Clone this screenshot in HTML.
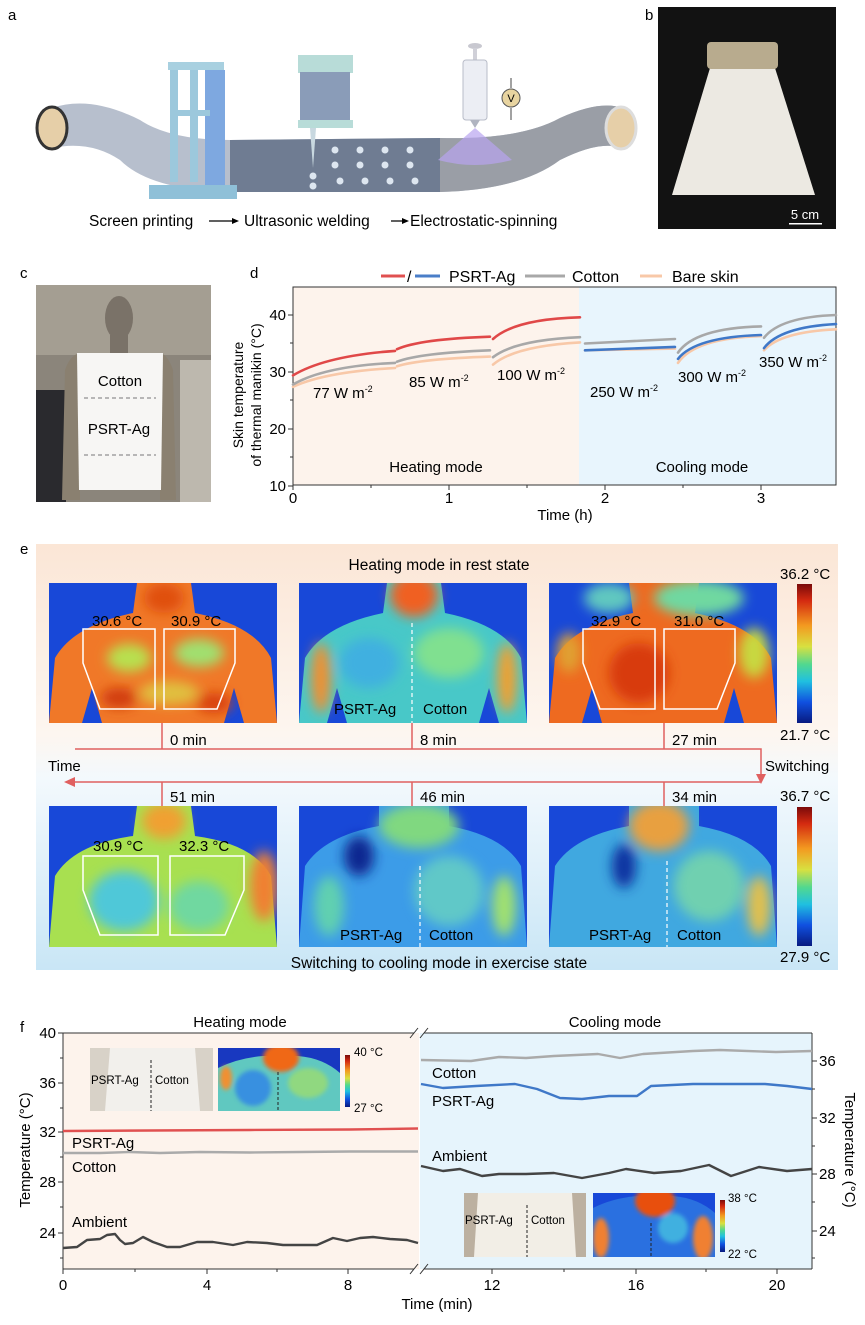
<!DOCTYPE html>
<html><head><meta charset="utf-8"><style>
html,body{margin:0;padding:0;background:#fff;}
svg{display:block;font-family:"Liberation Sans",Arial,sans-serif;}
</style></head><body>
<svg width="865" height="1325" viewBox="0 0 865 1325" xmlns="http://www.w3.org/2000/svg">
<defs>
<filter id="bl" x="-20%" y="-20%" width="140%" height="140%"><feGaussianBlur stdDeviation="6"/></filter>
<filter id="bl2"><feGaussianBlur stdDeviation="2"/></filter>
<linearGradient id="cb" x1="0" y1="0" x2="0" y2="1">
<stop offset="0" stop-color="#7a0a0a"/><stop offset="0.12" stop-color="#d42a10"/><stop offset="0.3" stop-color="#f39a20"/><stop offset="0.45" stop-color="#d8e040"/><stop offset="0.58" stop-color="#50d890"/><stop offset="0.7" stop-color="#20c0e0"/><stop offset="0.85" stop-color="#1050e0"/><stop offset="1" stop-color="#081a80"/></linearGradient>
<linearGradient id="ebg" x1="0" y1="0" x2="0" y2="1">
<stop offset="0" stop-color="#fbe6d6"/><stop offset="0.45" stop-color="#fdf6f0"/><stop offset="0.55" stop-color="#f3f9fd"/><stop offset="1" stop-color="#c9e6f6"/></linearGradient>
<linearGradient id="roll" x1="0" y1="0" x2="1" y2="0"><stop offset="0" stop-color="#b9b9bd"/><stop offset="1" stop-color="#e8e8ec"/></linearGradient>
<clipPath id="c1"><rect x="0" y="0" width="228" height="140"/></clipPath>
<clipPath id="c2"><rect x="0" y="0" width="228" height="141"/></clipPath>
</defs>

<!-- ===== Panel a ===== -->
<text x="8" y="20" font-size="15">a</text>
<!-- belt -->
<path d="M52,108 Q90,95 140,120 Q170,140 230,140 L440,138 Q520,140 560,118 Q600,100 622,108 L622,148 Q600,140 560,160 Q520,190 440,192 L230,192 Q150,190 120,160 Q90,140 52,148 Z" fill="#aab4c4" opacity="0.85"/>
<path d="M230,140 L440,138 L440,192 L230,192 Z" fill="#6f7c92"/>
<path d="M440,138 Q520,140 560,118 Q600,100 622,108 L622,148 Q600,140 560,160 Q520,190 440,192 Z" fill="#9a9ea6"/>
<ellipse cx="52" cy="128" rx="15" ry="21" fill="#e6cfa8" stroke="#333" stroke-width="3"/>
<ellipse cx="621" cy="128" rx="15" ry="21" fill="#e6cfa8" stroke="#ddd" stroke-width="3"/>
<!-- base plate -->
<rect x="149" y="185" width="88" height="14" fill="#8fc0d8"/>
<!-- screen printer frame -->
<rect x="168" y="62" width="56" height="8" fill="#a8d0e0"/>
<rect x="170" y="70" width="8" height="112" fill="#9cc8dc"/>
<rect x="190" y="70" width="8" height="112" fill="#9cc8dc"/>
<rect x="205" y="70" width="20" height="115" fill="#7ea8e0"/>
<rect x="170" y="110" width="40" height="6" fill="#9cc8dc"/>
<!-- welder -->
<rect x="298" y="55" width="55" height="18" fill="#b8dcd8"/>
<rect x="300" y="72" width="50" height="48" fill="#8a9cb8"/>
<rect x="298" y="120" width="55" height="8" fill="#b8dcd8"/>
<path d="M310,128 L316,128 L313,168 Z" fill="#c8d8e0"/>
<!-- dots -->
<g fill="#dde6f0">
<circle cx="335" cy="150" r="3.5"/><circle cx="360" cy="150" r="3.5"/><circle cx="385" cy="150" r="3.5"/><circle cx="410" cy="150" r="3.5"/>
<circle cx="335" cy="165" r="3.5"/><circle cx="360" cy="165" r="3.5"/><circle cx="385" cy="165" r="3.5"/><circle cx="410" cy="165" r="3.5"/>
<circle cx="340" cy="181" r="3.5"/><circle cx="365" cy="181" r="3.5"/><circle cx="390" cy="181" r="3.5"/><circle cx="415" cy="181" r="3.5"/>
<circle cx="313" cy="176" r="3.5"/><circle cx="313" cy="186" r="3.5"/></g>
<!-- syringe -->
<ellipse cx="475" cy="46" rx="7" ry="3" fill="#c8c8d0"/>
<rect x="473" y="48" width="4" height="12" fill="#d0d0d8"/>
<rect x="463" y="60" width="24" height="60" rx="3" fill="#eceef4" stroke="#b8bcc8"/>
<path d="M470,120 L480,120 L475,128 Z" fill="#b0b4c0"/>
<path d="M475,128 L438,160 Q475,170 512,160 Z" fill="#b8a4f0" opacity="0.7"/>
<circle cx="511" cy="98" r="9" fill="#e8d4a0" stroke="#555"/>
<text x="511" y="102" font-size="11" text-anchor="middle">V</text>
<path d="M511,78 L511,88 M511,108 L511,120" stroke="#444" stroke-width="1"/>
<!-- caption -->
<g font-size="15.5">
<text x="89" y="226">Screen printing</text>
<text x="244" y="226">Ultrasonic welding</text>
<text x="410" y="226">Electrostatic-spinning</text>
</g>
<path d="M209,221 L232,221 M391,221 L402,221" stroke="#000" stroke-width="1.3"/>
<path d="M232,218 L239,221 L232,224 Z M402,218 L409,221 L402,224 Z" fill="#000"/>

<!-- ===== Panel b ===== -->
<text x="645" y="20" font-size="15">b</text>
<rect x="658" y="7" width="178" height="222" fill="#121212"/>
<path d="M710,68 L775,68 L815,195 L672,195 Z" fill="#ece9e2"/>
<rect x="707" y="42" width="71" height="27" rx="4" fill="#b8ab8e"/>
<text x="805" y="219" font-size="13" fill="#fff" text-anchor="middle">5 cm</text>
<rect x="789" y="223" width="33" height="1.5" fill="#fff"/>

<!-- ===== Panel c ===== -->
<text x="20" y="278" font-size="15">c</text>
<rect x="36" y="285" width="175" height="217" fill="#8b857b"/>
<rect x="36" y="285" width="175" height="70" fill="#a49e92"/>
<rect x="36" y="390" width="30" height="112" fill="#2a2a2e"/>
<rect x="180" y="360" width="31" height="142" fill="#bdb8ae"/>
<ellipse cx="119" cy="318" rx="14" ry="22" fill="#7a7268"/>
<rect x="110" y="335" width="18" height="18" fill="#7a7268"/>
<path d="M65,370 Q70,355 80,353 L80,500 L62,500 Z M173,370 Q168,355 160,353 L160,500 L176,500 Z" fill="#8a8070"/>
<path d="M77,353 L163,353 L161,490 L79,490 Z" fill="#f7f6f4"/>
<path d="M84,398 L156,398 M84,455 L156,455" stroke="#777" stroke-dasharray="4,3" stroke-width="1"/>
<text x="120" y="386" font-size="15" text-anchor="middle">Cotton</text>
<text x="119" y="434" font-size="15" text-anchor="middle">PSRT-Ag</text>

<!-- ===== Panel d ===== -->
<text x="250" y="278" font-size="15">d</text>
<rect x="293" y="287" width="286" height="198" fill="#fdf3ec"/>
<rect x="579" y="287" width="257" height="198" fill="#e8f5fd"/>
<rect x="293" y="287" width="543" height="198" fill="none" stroke="#333" stroke-width="1"/>
<g stroke="#333" stroke-width="1">
<path d="M288,315 L293,315 M288,372 L293,372 M288,429 L293,429 M288,486 L293,486"/>
<path d="M290,343 L293,343 M290,400 L293,400 M290,457 L293,457"/>
<path d="M293,485 L293,490 M449,485 L449,490 M605,485 L605,490 M761,485 L761,490"/>
<path d="M371,485 L371,488 M527,485 L527,488 M683,485 L683,488"/>
</g>
<g font-size="15" text-anchor="end"><text x="286" y="320">40</text><text x="286" y="377">30</text><text x="286" y="434">20</text><text x="286" y="491">10</text></g>
<g font-size="15" text-anchor="middle"><text x="293" y="503">0</text><text x="449" y="503">1</text><text x="605" y="503">2</text><text x="761" y="503">3</text></g>
<text x="565" y="520" font-size="15" text-anchor="middle">Time (h)</text>
<g font-size="14" text-anchor="middle">
<text transform="translate(243,395) rotate(-90)">Skin temperature</text>
<text transform="translate(261,395) rotate(-90)">of thermal manikin (°C)</text></g>
<!-- legend -->
<path d="M381,276 L405,276" stroke="#e05050" stroke-width="3"/>
<text x="407" y="282" font-size="16">/</text>
<path d="M415,276 L440,276" stroke="#4a7ec8" stroke-width="3"/>
<text x="449" y="282" font-size="16">PSRT-Ag</text>
<path d="M525,276 L565,276" stroke="#a8a8a8" stroke-width="3"/>
<text x="572" y="282" font-size="16">Cotton</text>
<path d="M640,276 L662,276" stroke="#f8c8a8" stroke-width="3"/>
<text x="672" y="282" font-size="16">Bare skin</text>
<!-- curves -->
<g fill="none" stroke-width="2.6" stroke-linecap="round">
<g stroke="#f8c8a8">
<path d="M293,386.8 Q325,372 395,368"/><path d="M397,366.3 Q420,359 490,356.6"/><path d="M493,364.6 Q515,346 580,342.4"/>
<path d="M585,350.3 L675,348.6"/><path d="M678,362.9 Q695,338 761,336.1"/><path d="M764,350.3 Q780,332 836,329.3"/></g>
<g stroke="#a8a8a8">
<path d="M293,384.5 Q325,366 395,362.9"/><path d="M397,361.7 Q420,353 490,350.3"/><path d="M493,357.2 Q515,340 580,337.2"/>
<path d="M585,343.5 L675,339"/><path d="M678,352.6 Q695,328 761,326.4"/><path d="M764,337.8 Q780,317 836,315"/></g>
<g stroke="#e04848">
<path d="M293,375.4 Q325,356 395,350.9"/><path d="M397,349.2 Q420,339 490,336.7"/><path d="M493,339 Q515,319 580,317.3"/></g>
<g stroke="#3f78c8">
<path d="M585,350.3 L675,346.9"/><path d="M678,358.9 Q695,337 761,335"/><path d="M764,348.1 Q780,327 836,324.1"/></g>
</g>
<g font-size="15">
<text x="313" y="398">77 W m<tspan font-size="9" dy="-6">-2</tspan></text>
<text x="409" y="387">85 W m<tspan font-size="9" dy="-6">-2</tspan></text>
<text x="497" y="380">100 W m<tspan font-size="9" dy="-6">-2</tspan></text>
<text x="590" y="397">250 W m<tspan font-size="9" dy="-6">-2</tspan></text>
<text x="678" y="382">300 W m<tspan font-size="9" dy="-6">-2</tspan></text>
<text x="759" y="367">350 W m<tspan font-size="9" dy="-6">-2</tspan></text>
</g>
<text x="436" y="472" font-size="15" text-anchor="middle">Heating mode</text>
<text x="702" y="472" font-size="15" text-anchor="middle">Cooling mode</text>

<!-- ===== Panel e ===== -->
<text x="20" y="554" font-size="15">e</text>
<rect x="36" y="544" width="802" height="426" fill="url(#ebg)"/>
<text x="439" y="570" font-size="15.5" text-anchor="middle">Heating mode in rest state</text>
<text x="439" y="968" font-size="15.5" text-anchor="middle">Switching to cooling mode in exercise state</text>

<!-- Image 1 -->
<g transform="translate(49,583)"><g clip-path="url(#c1)">
<rect width="228" height="140" fill="#1848d8"/>
<path d="M88,0 L142,0 L146,30 Q205,42 222,75 L228,140 L195,140 L185,105 L175,140 L53,140 L43,105 L33,140 L0,140 L6,75 Q25,42 84,30 Z" fill="#f07828"/>
<g filter="url(#bl)"><ellipse cx="80" cy="75" rx="22" ry="14" fill="#b8e050"/><ellipse cx="150" cy="70" rx="25" ry="14" fill="#a0e070"/><ellipse cx="120" cy="110" rx="30" ry="12" fill="#e0c040"/><ellipse cx="70" cy="115" rx="18" ry="10" fill="#d03a10"/><ellipse cx="165" cy="120" rx="18" ry="10" fill="#d84010"/><ellipse cx="115" cy="15" rx="20" ry="15" fill="#e05010"/></g>
</g></g>
<!-- Image 2 -->
<g transform="translate(299,583)"><g clip-path="url(#c1)">
<rect width="228" height="140" fill="#1848d8"/>
<path d="M88,0 L142,0 L146,30 Q205,42 222,75 L228,140 L200,140 L190,105 L180,140 L48,140 L38,105 L28,140 L0,140 L6,75 Q25,42 84,30 Z" fill="#48c8c8"/>
<g filter="url(#bl)"><ellipse cx="115" cy="12" rx="24" ry="22" fill="#f06020"/><ellipse cx="22" cy="95" rx="10" ry="35" fill="#f09030"/><ellipse cx="208" cy="95" rx="10" ry="35" fill="#f0a030"/><ellipse cx="150" cy="70" rx="35" ry="25" fill="#80e090"/><ellipse cx="70" cy="80" rx="30" ry="25" fill="#40b0e0"/></g>
<path d="M113,40 L113,140" stroke="#fff" stroke-dasharray="4,3" stroke-width="1.2"/>
</g></g>
<!-- Image 3 -->
<g transform="translate(549,583)"><g clip-path="url(#c1)">
<rect width="228" height="140" fill="#1848d8"/>
<path d="M80,0 L150,0 L146,30 Q205,42 222,75 L228,140 L195,140 L185,105 L175,140 L53,140 L43,105 L33,140 L0,140 L6,75 Q25,42 84,30 Z" fill="#ee6a20"/>
<g filter="url(#bl)"><ellipse cx="150" cy="15" rx="45" ry="18" fill="#70d8a0"/><ellipse cx="60" cy="15" rx="25" ry="15" fill="#60c8c0"/><ellipse cx="90" cy="90" rx="30" ry="30" fill="#d83a10"/><ellipse cx="205" cy="70" rx="15" ry="25" fill="#c8d840"/><ellipse cx="20" cy="70" rx="12" ry="20" fill="#e0a030"/></g>
</g></g>
<!-- Image 4 -->
<g transform="translate(49,806)"><g clip-path="url(#c2)">
<rect width="228" height="141" fill="#1848d8"/>
<path d="M88,0 L142,0 L146,30 Q205,38 222,70 L228,141 L0,141 L6,70 Q25,38 84,30 Z" fill="#a8e050"/>
<g filter="url(#bl)"><ellipse cx="115" cy="15" rx="22" ry="18" fill="#f0a030"/><ellipse cx="75" cy="95" rx="35" ry="30" fill="#50c8d8"/><ellipse cx="150" cy="100" rx="30" ry="25" fill="#70d8a0"/><ellipse cx="215" cy="80" rx="14" ry="35" fill="#f08030"/></g>
</g></g>
<!-- Image 5 -->
<g transform="translate(299,806)"><g clip-path="url(#c2)">
<rect width="228" height="141" fill="#1848d8"/>
<path d="M80,0 L150,0 L150,20 Q205,30 222,60 L228,141 L0,141 L6,60 Q25,30 80,20 Z" fill="#3c9ce8"/>
<g filter="url(#bl)"><ellipse cx="120" cy="20" rx="40" ry="22" fill="#80d880"/><ellipse cx="150" cy="85" rx="35" ry="35" fill="#60c8c8"/><ellipse cx="60" cy="50" rx="15" ry="20" fill="#102890"/><ellipse cx="30" cy="100" rx="15" ry="30" fill="#60d0b0"/><ellipse cx="205" cy="100" rx="12" ry="30" fill="#a0e070"/></g>
<path d="M121,60 L121,141" stroke="#fff" stroke-dasharray="4,3" stroke-width="1.2"/>
</g></g>
<!-- Image 6 -->
<g transform="translate(549,806)"><g clip-path="url(#c2)">
<rect width="228" height="141" fill="#1848d8"/>
<path d="M80,0 L150,0 L150,20 Q205,30 222,60 L228,141 L0,141 L6,60 Q25,30 80,20 Z" fill="#40a8e0"/>
<g filter="url(#bl)"><ellipse cx="110" cy="20" rx="30" ry="25" fill="#e8a040"/><ellipse cx="160" cy="80" rx="35" ry="35" fill="#70d0b0"/><ellipse cx="75" cy="60" rx="12" ry="22" fill="#1030a0"/><ellipse cx="210" cy="100" rx="12" ry="30" fill="#e0c050"/></g>
<path d="M118,55 L118,141" stroke="#fff" stroke-dasharray="4,3" stroke-width="1.2"/>
</g></g>

<!-- trapezoids -->
<g fill="none" stroke="#fff" stroke-width="1.5">
<path d="M83,629 L155,629 L155,709 L100,709 L83,663 Z"/><path d="M164,629 L235,629 L235,663 L217,709 L164,709 Z"/>
<path d="M583,629 L655,629 L655,709 L600,709 L583,663 Z"/><path d="M664,629 L735,629 L735,663 L717,709 L664,709 Z"/>
<path d="M83,856 L158,856 L158,935 L100,935 L83,890 Z"/><path d="M170,856 L244,856 L244,890 L225,935 L170,935 Z"/>
</g>
<g font-size="15">
<text x="92" y="626">30.6 °C</text><text x="171" y="626">30.9 °C</text>
<text x="591" y="626">32.9 °C</text><text x="674" y="626">31.0 °C</text>
<text x="93" y="851">30.9 °C</text><text x="179" y="851">32.3 °C</text>
<text x="334" y="714">PSRT-Ag</text><text x="423" y="714">Cotton</text>
<text x="340" y="940">PSRT-Ag</text><text x="429" y="940">Cotton</text>
<text x="589" y="940">PSRT-Ag</text><text x="677" y="940">Cotton</text>
</g>
<!-- timeline -->
<g stroke="#e06060" stroke-width="1.5" fill="none">
<path d="M75,749 L761,749 L761,778"/>
<path d="M761,782 L70,782"/>
<path d="M162,723 L162,749 M412,723 L412,749 M664,723 L664,749"/>
<path d="M162,782 L162,806 M412,782 L412,806 M664,782 L664,806"/>
</g>
<path d="M756,774 L761,784 L766,774 Z" fill="#e06060"/>
<path d="M64,782 L75,777 L75,787 Z" fill="#e06060"/>
<g font-size="15">
<text x="170" y="745">0 min</text><text x="420" y="745">8 min</text><text x="672" y="745">27 min</text>
<text x="170" y="802">51 min</text><text x="420" y="802">46 min</text><text x="672" y="802">34 min</text>
<text x="48" y="771">Time</text><text x="765" y="771">Switching</text>
</g>
<!-- colorbars -->
<rect x="797" y="584" width="15" height="139" fill="url(#cb)"/>
<rect x="797" y="807" width="15" height="139" fill="url(#cb)"/>
<g font-size="15">
<text x="780" y="579">36.2 °C</text><text x="780" y="740">21.7 °C</text>
<text x="780" y="801">36.7 °C</text><text x="780" y="962">27.9 °C</text>
</g>

<!-- ===== Panel f ===== -->
<text x="20" y="1032" font-size="15">f</text>
<rect x="63" y="1033" width="356" height="236" fill="#fdf3ec"/>
<rect x="420" y="1033" width="392" height="236" fill="#e6f4fc"/>
<path d="M63,1033 L414,1033 M424,1033 L812,1033 M63,1269 L414,1269 M424,1269 L812,1269 M63,1033 L63,1269 M812,1033 L812,1269" stroke="#333" stroke-width="1" fill="none"/>
<path d="M410,1038 L418,1028 M420,1038 L428,1028 M410,1274 L418,1264 M420,1274 L428,1264" stroke="#333" stroke-width="1"/>
<g stroke="#333" stroke-width="1">
<path d="M58,1033 L63,1033 M58,1083 L63,1083 M58,1132 L63,1132 M58,1182 L63,1182 M58,1233 L63,1233"/>
<path d="M60,1058 L63,1058 M60,1108 L63,1108 M60,1157 L63,1157 M60,1207 L63,1207 M60,1258 L63,1258"/>
<path d="M812,1061 L817,1061 M812,1118 L817,1118 M812,1174 L817,1174 M812,1231 L817,1231"/>
<path d="M812,1089 L815,1089 M812,1146 L815,1146 M812,1202 L815,1202 M812,1258 L815,1258"/>
<path d="M63,1269 L63,1274 M207,1269 L207,1274 M348,1269 L348,1274 M492,1269 L492,1274 M636,1269 L636,1274 M777,1269 L777,1274"/>
<path d="M135,1269 L135,1272 M277,1269 L277,1272 M564,1269 L564,1272 M706,1269 L706,1272"/>
</g>
<g font-size="15" text-anchor="end">
<text x="56" y="1038">40</text><text x="56" y="1088">36</text><text x="56" y="1137">32</text><text x="56" y="1187">28</text><text x="56" y="1238">24</text></g>
<g font-size="15">
<text x="819" y="1066">36</text><text x="819" y="1123">32</text><text x="819" y="1179">28</text><text x="819" y="1236">24</text></g>
<g font-size="15" text-anchor="middle">
<text x="63" y="1290">0</text><text x="207" y="1290">4</text><text x="348" y="1290">8</text><text x="492" y="1290">12</text><text x="636" y="1290">16</text><text x="777" y="1290">20</text></g>
<text x="437" y="1309" font-size="15" text-anchor="middle">Time (min)</text>
<text x="240" y="1027" font-size="15" text-anchor="middle">Heating mode</text>
<text x="615" y="1027" font-size="15" text-anchor="middle">Cooling mode</text>
<text transform="translate(30,1150) rotate(-90)" font-size="15" text-anchor="middle">Temperature (°C)</text>
<text transform="translate(845,1150) rotate(90)" font-size="15" text-anchor="middle">Temperature (°C)</text>
<!-- f lines -->
<g fill="none" stroke-width="2.4" stroke-linejoin="round">
<path d="M63,1131 L150,1130.5 L250,1130 L350,1129.5 L418,1128.5" stroke="#e05050"/>
<path d="M63,1153 L100,1153 L130,1152 L160,1153 L200,1152 L250,1152.5 L300,1152 L350,1151.5 L418,1151.5" stroke="#aaa"/>
<path d="M63,1248 L77,1247 L87,1240 L100,1239 L107,1235 L115,1234 L120,1240 L125,1244 L133,1243 L143,1237 L153,1242 L167,1247 L180,1247 L197,1242 L213,1242 L233,1245 L247,1242 L267,1243 L283,1245 L300,1245 L317,1245 L333,1238 L347,1241 L360,1238 L373,1237 L390,1239 L407,1240 L418,1243" stroke="#444"/>
<path d="M421,1060 L471,1061 L499,1057 L526,1058 L554,1056 L598,1054 L620,1058 L643,1054 L693,1051 L720,1050 L776,1052 L812,1051" stroke="#aaa"/>
<path d="M421,1084 L443,1088 L476,1086 L515,1084 L537,1089 L560,1098 L582,1099 L609,1096 L637,1096 L651,1086 L693,1084 L737,1084 L765,1084 L787,1086 L812,1089" stroke="#3f78c8"/>
<path d="M421,1166 L443,1171 L460,1169 L482,1176 L499,1174 L526,1174 L554,1173 L582,1178 L609,1173 L626,1169 L654,1173 L681,1171 L709,1165 L731,1176 L759,1167 L787,1171 L812,1169" stroke="#444"/>
</g>
<g font-size="15">
<text x="72" y="1148">PSRT-Ag</text><text x="72" y="1172">Cotton</text><text x="72" y="1227">Ambient</text>
<text x="432" y="1078">Cotton</text><text x="432" y="1106">PSRT-Ag</text><text x="432" y="1161">Ambient</text>
</g>
<!-- inset left -->
<rect x="90" y="1048" width="123" height="63" fill="#d8d2c8"/>
<path d="M110,1048 L195,1048 L200,1111 L105,1111 Z" fill="#f2f0ec"/>
<path d="M151,1060 L151,1111" stroke="#222" stroke-dasharray="3,2"/>
<text x="91" y="1084" font-size="11.5">PSRT-Ag</text><text x="155" y="1084" font-size="11.5">Cotton</text>
<g transform="translate(218,1048)"><svg width="122" height="63" overflow="hidden">
<rect width="122" height="63" fill="#1838c0"/>
<path d="M0,20 Q20,10 45,8 L80,8 Q105,10 122,25 L122,63 L0,63 Z" fill="#60c8c0"/>
<g filter="url(#bl2)"><ellipse cx="63" cy="10" rx="18" ry="14" fill="#f06818"/><ellipse cx="35" cy="40" rx="18" ry="18" fill="#3890e0"/><ellipse cx="90" cy="35" rx="20" ry="15" fill="#90d880"/><ellipse cx="8" cy="30" rx="6" ry="12" fill="#f09030"/></g>
<path d="M60,24 L60,63" stroke="#222" stroke-dasharray="3,2"/></svg></g>
<rect x="345" y="1055" width="5" height="52" fill="url(#cb)"/>
<text x="354" y="1056" font-size="11.5">40 °C</text><text x="354" y="1112" font-size="11.5">27 °C</text>
<!-- inset right -->
<rect x="464" y="1193" width="122" height="64" fill="#bcb0a0"/>
<path d="M478,1193 L572,1193 L576,1257 L474,1257 Z" fill="#f2eee6"/>
<path d="M527,1205 L527,1257" stroke="#222" stroke-dasharray="3,2"/>
<text x="465" y="1224" font-size="11.5">PSRT-Ag</text><text x="531" y="1224" font-size="11.5">Cotton</text>
<g transform="translate(593,1193)"><svg width="122" height="64" overflow="hidden">
<rect width="122" height="64" fill="#1848d8"/>
<path d="M0,15 Q20,5 45,3 L80,3 Q105,5 122,20 L122,64 L0,64 Z" fill="#2a70e0"/>
<g filter="url(#bl2)"><ellipse cx="62" cy="8" rx="20" ry="16" fill="#e85010"/><ellipse cx="110" cy="45" rx="10" ry="22" fill="#f08030"/><ellipse cx="8" cy="45" rx="8" ry="20" fill="#f08030"/><ellipse cx="80" cy="35" rx="15" ry="15" fill="#40b0e0"/></g>
<path d="M58,30 L58,64" stroke="#222" stroke-dasharray="3,2"/></svg></g>
<rect x="720" y="1200" width="5" height="52" fill="url(#cb)"/>
<text x="728" y="1202" font-size="11.5">38 °C</text><text x="728" y="1258" font-size="11.5">22 °C</text>
</svg>
</body></html>
